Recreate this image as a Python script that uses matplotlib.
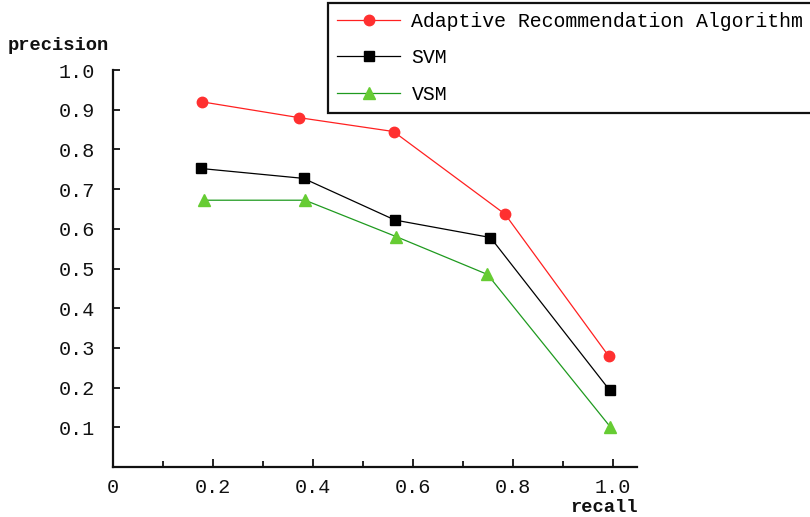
import matplotlib
matplotlib.use("Agg")
import matplotlib.pyplot as plt
from matplotlib.ticker import FixedLocator

# Precision-recall values for the three methods
adaptive_recall = [0.177, 0.372, 0.561, 0.784, 0.991]
adaptive_precision = [0.92, 0.88, 0.845, 0.637, 0.28]

svm_recall = [0.175, 0.381, 0.564, 0.755, 0.993]
svm_precision = [0.752, 0.727, 0.622, 0.578, 0.194]

vsm_recall = [0.181, 0.384, 0.567, 0.749, 0.994]
vsm_precision = [0.672, 0.672, 0.58, 0.485, 0.102]

series_names = ["Adaptive Recommendation Algorithm", "SVM", "VSM"]
x_ticks = [0, 0.2, 0.4, 0.6, 0.8, 1.0]
x_tick_labels = ["0", "0.2", "0.4", "0.6", "0.8", "1.0"]
y_ticks = [0.1, 0.2, 0.3, 0.4, 0.5, 0.6, 0.7, 0.8, 0.9, 1.0]
y_tick_labels = ["0.1", "0.2", "0.3", "0.4", "0.5", "0.6", "0.7", "0.8", "0.9", "1.0"]

FONT = "Liberation Mono"
W, H = 810, 517
fig = plt.figure(figsize=(W / 100, H / 100), dpi=100)
fig.patch.set_facecolor("white")

left_px, right_px, top_px, bottom_px = 113, 637, 70, 467
ax = fig.add_axes([left_px / W, 1 - bottom_px / H,
                   (right_px - left_px) / W, (bottom_px - top_px) / H])

ax.plot(adaptive_recall, adaptive_precision, color="#ff2020", lw=0.9,
        marker="o", ms=7.5, mfc="#ff3030", mec="#ff3030", label=series_names[0])
ax.plot(svm_recall, svm_precision, color="black", lw=0.9,
        marker="s", ms=6.5, mfc="black", mec="black", label=series_names[1])
ax.plot(vsm_recall, vsm_precision, color="#1f9a1f", lw=0.9,
        marker="^", ms=8.5, mfc="#66cc33", mec="#66cc33", label=series_names[2])

ax.set_xlim(0, (right_px - left_px) / 500)
ax.set_ylim(0, 1.0)

for side in ("top", "right"):
    ax.spines[side].set_visible(False)
for side in ("left", "bottom"):
    ax.spines[side].set_linewidth(1.6)
    ax.spines[side].set_color("#111111")

ax.xaxis.set_major_locator(FixedLocator(x_ticks))
ax.set_xticklabels(x_tick_labels)
ax.xaxis.set_minor_locator(FixedLocator([0.1, 0.3, 0.5, 0.7, 0.9]))
ax.yaxis.set_major_locator(FixedLocator(y_ticks))
ax.set_yticklabels(y_tick_labels)

ax.tick_params(axis="x", which="major", direction="in", length=6, width=1.3,
               pad=8, labelsize=14.5, color="#111111")
ax.tick_params(axis="x", which="minor", direction="in", length=4, width=1.3,
               color="#111111")
ax.tick_params(axis="y", which="major", direction="in", length=5, width=1.3,
               pad=13, labelsize=14.5, color="#111111")
for lab in ax.get_xticklabels() + ax.get_yticklabels():
    lab.set_family(FONT)
    lab.set_color("#111111")

fig.text(8 / W, 1 - 46 / H, "precision", family=FONT, fontsize=13.5,
         fontweight="bold", ha="left", va="center", color="#111111")
fig.text(638 / W, 1 - 507 / H, "recall", family=FONT, fontsize=13.5,
         fontweight="bold", ha="right", va="center", color="#111111")

leg = fig.legend(loc="upper left", bbox_to_anchor=(328 / W, 1 - 3 / H),
                 bbox_transform=fig.transFigure, frameon=True, fancybox=False,
                 prop={"family": FONT, "size": 14.3}, handlelength=3.2,
                 handletextpad=0.55, labelspacing=0.88, borderpad=0.45,
                 borderaxespad=0)
leg.get_frame().set_edgecolor("#111111")
leg.get_frame().set_linewidth(1.6)
leg.get_frame().set_alpha(1)

fig.savefig("out.png", dpi=100, facecolor="white")
